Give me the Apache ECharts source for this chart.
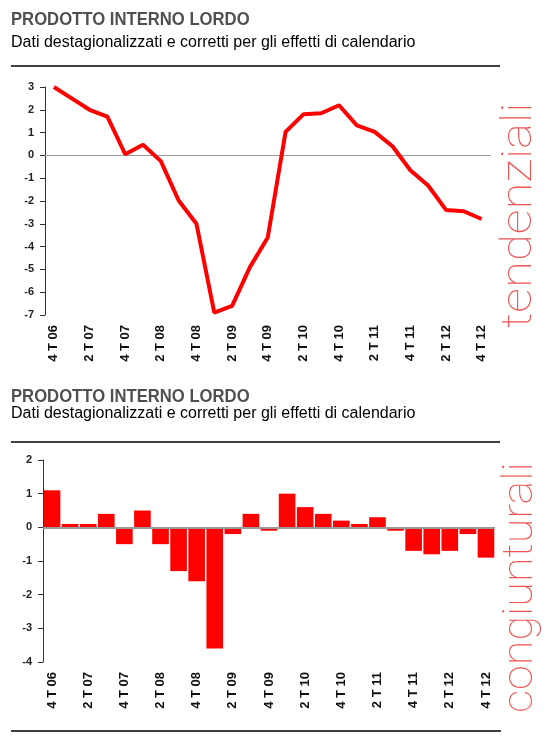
<!DOCTYPE html>
<html>
<head>
<meta charset="utf-8">
<script src="https://cdn.jsdelivr.net/npm/echarts@6/dist/echarts.min.js"></script>
<style>
html,body{margin:0;padding:0;background:#fff;}
#c{width:549px;height:755px;}
</style>
</head>
<body>
<div id="c"></div>
<script>
var categories = ["4 T 06","1 T 07","2 T 07","3 T 07","4 T 07","1 T 08","2 T 08","3 T 08","4 T 08",
  "1 T 09","2 T 09","3 T 09","4 T 09","1 T 10","2 T 10","3 T 10","4 T 10","1 T 11","2 T 11","3 T 11",
  "4 T 11","1 T 12","2 T 12","3 T 12","4 T 12"];
var tendenziali = [3.0, 2.5, 2.0, 1.7, 0.05, 0.47, -0.25, -1.98, -3.0, -6.9, -6.6, -4.9, -3.6,
  1.03, 1.8, 1.85, 2.2, 1.32, 1.03, 0.4, -0.65, -1.32, -2.39, -2.45, -2.79];
var congiunturali = [1.1, 0.1, 0.1, 0.4, -0.5, 0.5, -0.5, -1.3, -1.6, -3.6, -0.2, 0.4, -0.1,
  1.0, 0.6, 0.4, 0.2, 0.1, 0.3, -0.1, -0.7, -0.8, -0.7, -0.2, -0.9];
var yTicksTop = {min: -7, max: 3, interval: 1};
var yTicksBottom = {min: -4, max: 2, interval: 1};
var titleText = "PRODOTTO INTERNO LORDO";
var subtitleText = "Dati destagionalizzati e corretti per gli effetti di calendario";
var sideLabels = ["tendenziali", "congiunturali"];

var chart = echarts.init(document.getElementById('c'), null, {renderer: 'canvas'});
var FONT = 'Liberation Sans, Arial, sans-serif';

function xAxisCfg(gi) {
  return {
    type: 'category', gridIndex: gi, data: categories, boundaryGap: true,
    axisLine: {show: false}, axisTick: {show: false},
    axisLabel: {interval: 1, rotate: 90, fontSize: 13, fontWeight: 'bold', color: '#111', fontFamily: FONT, margin: 10}
  };
}
function yAxisCfg(gi, t) {
  return {
    type: 'value', gridIndex: gi, min: t.min, max: t.max, interval: t.interval,
    splitLine: {show: false},
    axisLine: {show: true, lineStyle: {color: '#333', width: 1}},
    axisTick: {show: true, length: 5, lineStyle: {color: '#333'}},
    axisLabel: {fontSize: 11, fontWeight: 'bold', color: '#222', fontFamily: FONT, margin: 11}
  };
}
function titleGraphics(yTitle, ySub, yLine) {
  return [
    {type: 'text', x: 11, y: yTitle, scaleX: 0.926,
     style: {text: titleText, fontSize: 18, fontWeight: 'bold', fontFamily: FONT, fill: '#505050', verticalAlign: 'middle', align: 'left'}},
    {type: 'text', x: 11, y: ySub,
     style: {text: subtitleText, fontSize: 16, fontFamily: FONT, fill: '#000', verticalAlign: 'middle', align: 'left'}},
    {type: 'line', shape: {x1: 11, y1: yLine, x2: 500, y2: yLine}, style: {stroke: '#000', lineWidth: 1.5}}
  ];
}

var option = {
  animation: false,
  backgroundColor: '#fff',
  grid: [
    {left: 45, right: 58.5, top: 87, bottom: 440},
    {left: 43, right: 54, top: 460, bottom: 93}
  ],
  xAxis: [xAxisCfg(0), xAxisCfg(1)],
  yAxis: [yAxisCfg(0, yTicksTop), yAxisCfg(1, yTicksBottom)],
  series: [
    {type: 'line', xAxisIndex: 0, yAxisIndex: 0, data: tendenziali, symbol: 'none',
     lineStyle: {color: '#ff0000', width: 4}, z: 3,
     markLine: {silent: true, symbol: 'none', label: {show: false},
       lineStyle: {color: '#999', width: 1, type: 'solid'}, data: [{yAxis: 0}], z: 2}},
    {type: 'bar', xAxisIndex: 1, yAxisIndex: 1, data: congiunturali, barCategoryGap: '8%',
     itemStyle: {color: '#ff0000'},
     markLine: {silent: true, symbol: 'none', label: {show: false},
       lineStyle: {color: '#999', width: 2, type: 'solid'}, data: [{yAxis: 0}]}}
  ],
  graphic: [].concat(
    titleGraphics(20, 43, 66),
    titleGraphics(397, 414, 442),
    [{type: 'line', shape: {x1: 11, y1: 731, x2: 501, y2: 731}, style: {stroke: '#000', lineWidth: 1.5}},
     {type: 'text', x: 520, y: 215.5, rotation: Math.PI / 2, scaleX: 1.17,
      style: {text: sideLabels[0], fontSize: 42, fontWeight: 100, fontFamily: 'Roboto, Lato, sans-serif', fill: '#ee5555', align: 'center', verticalAlign: 'middle'}},
     {type: 'text', x: 521, y: 587.5, rotation: Math.PI / 2, scaleX: 1.07,
      style: {text: sideLabels[1], fontSize: 42, fontWeight: 100, fontFamily: 'Roboto, Lato, sans-serif', fill: '#ee5555', align: 'center', verticalAlign: 'middle'}}]
  )
};
chart.setOption(option);
</script>
</body>
</html>
